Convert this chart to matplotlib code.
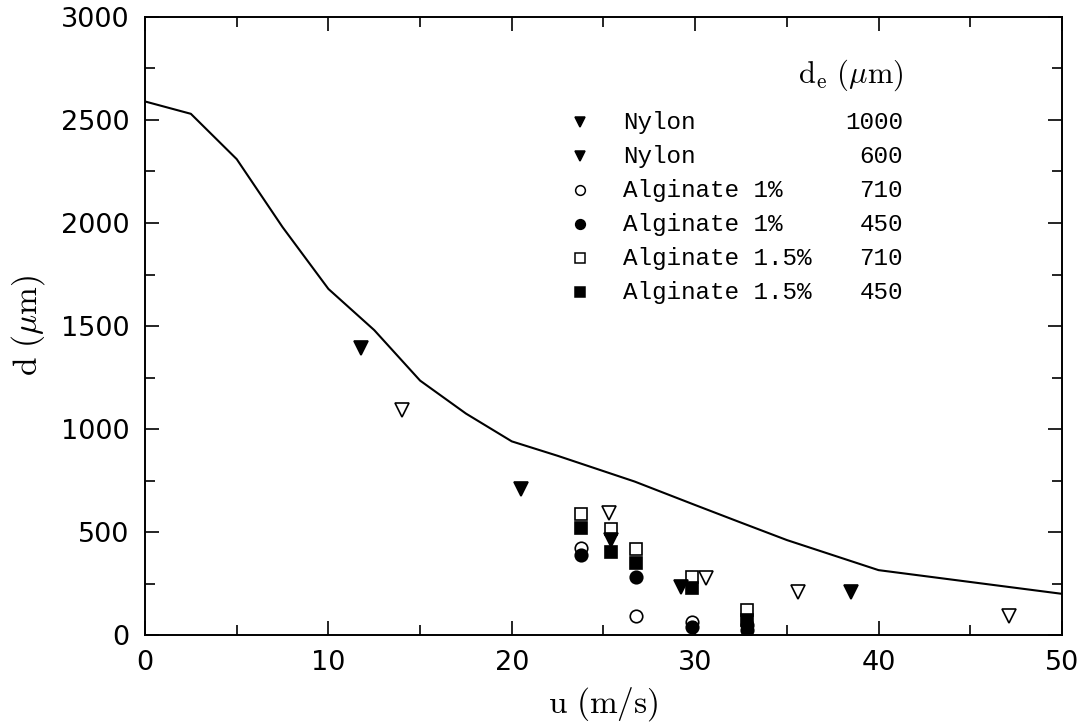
import matplotlib.pyplot as plt
from matplotlib.ticker import MultipleLocator

plt.rcParams['mathtext.fontset'] = 'cm'

# model curve d(u)
curve_u = [0, 2.5, 5, 7.5, 10, 12.5, 15, 17.5, 20, 22.5, 26.7, 30, 32.4, 35, 40, 50]
curve_d = [2590, 2530, 2310, 1980, 1680, 1480, 1235, 1075, 940, 870, 745, 631, 549, 461, 315, 200]

# measured drop diameters
nylon1000_u = [11.8, 20.5, 25.4, 29.2, 38.5]
nylon1000_d = [1393, 709, 461, 233, 209]
nylon600_u = [14.0, 25.3, 30.6, 35.6, 47.1]
nylon600_d = [1092, 592, 277, 209, 92]
alg1_710_u = [23.8, 26.8, 29.8, 32.8]
alg1_710_d = [422, 92, 63, 50]
alg1_450_u = [23.8, 26.8, 29.8, 32.8]
alg1_450_d = [388, 282, 39, 24]
alg15_710_u = [23.8, 25.4, 26.8, 29.8, 32.8]
alg15_710_d = [587, 515, 417, 282, 121]
alg15_450_u = [23.8, 25.4, 26.8, 29.8, 32.8]
alg15_450_d = [519, 403, 350, 228, 75]

names = ["Nylon", "Nylon", "Alginate 1%", "Alginate 1%", "Alginate 1.5%", "Alginate 1.5%"]
de_values = ["1000", "600", "710", "450", "710", "450"]

series = [
    (nylon1000_u, nylon1000_d, 'v', 'k', 10),
    (nylon600_u, nylon600_d, 'v', 'none', 10),
    (alg1_710_u, alg1_710_d, 'o', 'none', 9),
    (alg1_450_u, alg1_450_d, 'o', 'k', 9),
    (alg15_710_u, alg15_710_d, 's', 'none', 8),
    (alg15_450_u, alg15_450_d, 's', 'k', 8),
]
# legend in the original shows both nylon symbols filled
legend_fill = ['k', 'k', 'none', 'k', 'none', 'k']

fig = plt.figure(figsize=(10.79, 7.26), dpi=100)
ax = fig.add_axes([0.1344, 0.1253, 0.8498, 0.8513])

ax.plot(curve_u, curve_d, color='k', lw=1.5)

for u, d, m, fc, ms in series:
    ax.plot(u, d, linestyle='none', marker=m, markersize=ms,
            markerfacecolor=fc, markeredgecolor='k', markeredgewidth=1.2)

# hand-made legend
y0, dy = 0.830, 0.055
ax.text(0.8266, 0.905, r"$\mathrm{d_e}\ (\mu\mathrm{m})$", transform=ax.transAxes,
        ha='right', va='center', fontsize=22)
for i, (name, val) in enumerate(zip(names, de_values)):
    y = y0 - i * dy
    m = series[i][2]
    ax.plot([0.4744], [y], transform=ax.transAxes, linestyle='none', marker=m,
            markersize=7, markerfacecolor=legend_fill[i], markeredgecolor='k',
            markeredgewidth=1.1, clip_on=False)
    ax.text(0.5213, y, name, transform=ax.transAxes, ha='left', va='center',
            fontsize=17.5, family='Liberation Mono')
    ax.text(0.8266, y, val, transform=ax.transAxes, ha='right', va='center',
            fontsize=17.5, family='Liberation Mono')

ax.set_xlim(0, 50)
ax.set_ylim(0, 3000)
ax.xaxis.set_major_locator(MultipleLocator(10))
ax.xaxis.set_minor_locator(MultipleLocator(5))
ax.yaxis.set_major_locator(MultipleLocator(500))
ax.yaxis.set_minor_locator(MultipleLocator(250))
ax.tick_params(which='both', direction='in', top=True, right=True, width=1.2)
ax.tick_params(which='major', length=10, labelsize=19.5, pad=11)
ax.tick_params(which='minor', length=7)
for sp in ax.spines.values():
    sp.set_linewidth(1.4)

ax.set_xlabel(r"$\mathrm{u\ (m/s)}$", fontsize=24, labelpad=6)
ax.set_ylabel(r"$\mathrm{d}\ (\mu\mathrm{m})$", fontsize=24, labelpad=10)

fig.savefig("out.png", dpi=100)
